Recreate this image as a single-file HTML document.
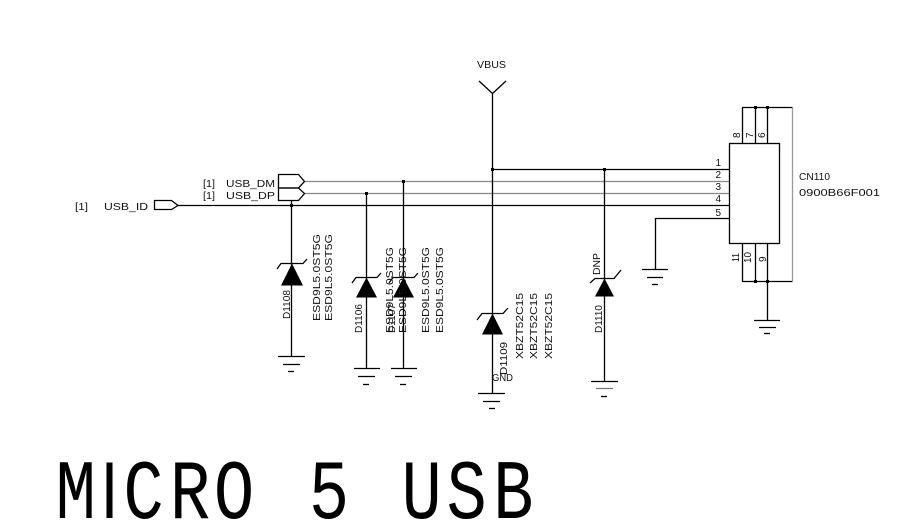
<!DOCTYPE html>
<html>
<head>
<meta charset="utf-8">
<style>
html,body{margin:0;padding:0;background:#fff;}
svg{display:block;}
text{font-family:"Liberation Sans",sans-serif;font-size:10px;fill:#111;}
.big{font-family:"Liberation Mono","DejaVu Sans Mono",monospace;font-size:84px;fill:#000;}
.bigI{font-family:"Liberation Sans",sans-serif;font-size:81px;fill:#000;}
</style>
</head>
<body>
<svg width="918" height="529" viewBox="0 0 918 529" xmlns="http://www.w3.org/2000/svg">
<g stroke="#000" stroke-width="1.3" fill="none">
  <line x1="492" y1="169.5" x2="729.5" y2="169.5"/>
  <line x1="304" y1="181.5" x2="729.5" y2="181.5" stroke="#888"/>
  <line x1="304" y1="193.5" x2="729.5" y2="193.5" stroke="#888"/>
  <line x1="178" y1="205.5" x2="729.5" y2="205.5"/>
  <polyline points="729.5,218.5 655.5,218.5 655.5,269"/>

  <polygon points="278.5,174.5 298.5,174.5 304.5,181.5 298.5,188 278.5,188"/>
  <polygon points="278.5,188 298.5,188 304.5,193.5 298.5,200.5 278.5,200.5"/>
  <polygon points="154.5,200.5 171.5,200.5 178,205.5 171.5,209.5 154.5,209.5"/>

  <polyline points="479,81 492.5,93.5 506,81"/>
  <line x1="492.5" y1="93" x2="492.5" y2="393.5"/>

  <line x1="291.5" y1="200" x2="291.5" y2="356.5"/>
  <line x1="366.5" y1="193" x2="366.5" y2="368.5"/>
  <line x1="403.5" y1="181" x2="403.5" y2="368.5"/>
  <line x1="604.5" y1="169" x2="604.5" y2="381.5"/>

  <polyline points="277,269 281,263.5 303,263.5 307,259"/>
  <polyline points="352,283 356,277.5 377,277.5 381,273"/>
  <polyline points="389,283 393,277.5 414,277.5 418,273"/>
  <polyline points="477,320 482,313.5 503,313.5 508,308"/>
  <polyline points="590,283 595,278.5 614,278.5 621,270"/>

  <rect x="729.5" y="143.5" width="50" height="100"/>
  <line x1="742.5" y1="107.5" x2="742.5" y2="143.5"/>
  <line x1="755.5" y1="107.5" x2="755.5" y2="143.5"/>
  <line x1="767.5" y1="107.5" x2="767.5" y2="143.5"/>
  <line x1="742.5" y1="243.5" x2="742.5" y2="281.5"/>
  <line x1="755.5" y1="243.5" x2="755.5" y2="281.5"/>
  <line x1="767.5" y1="243.5" x2="767.5" y2="320.5"/>
  <line x1="742" y1="107.5" x2="792.5" y2="107.5"/>
  <line x1="742" y1="281.5" x2="792.5" y2="281.5"/>
  <line x1="792.5" y1="107.5" x2="792.5" y2="281.5" stroke="#999"/>

  <g>
    <line x1="278" y1="356.5" x2="305" y2="356.5"/><line x1="283" y1="364.5" x2="300" y2="364.5"/><line x1="288" y1="371.5" x2="294" y2="371.5"/>
    <line x1="354" y1="368.5" x2="380" y2="368.5"/><line x1="358" y1="376.5" x2="375" y2="376.5"/><line x1="363" y1="384.5" x2="369" y2="384.5"/>
    <line x1="391" y1="368.5" x2="417" y2="368.5"/><line x1="395" y1="376.5" x2="412" y2="376.5"/><line x1="400" y1="384.5" x2="406" y2="384.5"/>
    <line x1="478" y1="393.5" x2="505" y2="393.5"/><line x1="483" y1="401.5" x2="500" y2="401.5"/><line x1="489" y1="408.5" x2="495" y2="408.5"/>
    <line x1="591" y1="381.5" x2="618" y2="381.5"/><line x1="596" y1="388.5" x2="613" y2="388.5" stroke="#777"/><line x1="601" y1="396.5" x2="607" y2="396.5"/>
    <line x1="642" y1="269.5" x2="668" y2="269.5"/><line x1="647" y1="277.5" x2="663" y2="277.5"/><line x1="652" y1="284.5" x2="658" y2="284.5"/>
    <line x1="754" y1="320.5" x2="780" y2="320.5"/><line x1="759" y1="327.5" x2="776" y2="327.5"/><line x1="764" y1="333.5" x2="770" y2="333.5"/>
  </g>
</g>

<g fill="#000">
  <polygon points="281,285.5 303,285.5 292,263.5"/>
  <polygon points="356,297.5 377,297.5 366.5,277.5"/>
  <polygon points="393,297.5 414,297.5 403.5,277.5"/>
  <polygon points="482,334.5 503,334.5 492.5,313.5"/>
  <polygon points="595,296.5 614,296.5 604.5,278.5"/>
  <rect x="491" y="168" width="3" height="3"/>
  <rect x="603" y="168" width="3" height="3"/>
  <rect x="402" y="180" width="3" height="3"/>
  <rect x="365" y="192" width="3" height="3"/>
  <rect x="290" y="204" width="3" height="3"/>
  <rect x="754" y="106" width="3" height="3"/>
  <rect x="766" y="106" width="3" height="3"/>
  <rect x="754" y="280" width="3" height="3"/>
  <rect x="766" y="280" width="3" height="3"/>
</g>

<text x="203" y="187" textLength="12" lengthAdjust="spacingAndGlyphs">[1]</text>
<text x="226" y="187" textLength="49" lengthAdjust="spacingAndGlyphs">USB_DM</text>
<text x="203" y="199" textLength="12" lengthAdjust="spacingAndGlyphs">[1]</text>
<text x="226" y="199" textLength="49" lengthAdjust="spacingAndGlyphs">USB_DP</text>
<text x="75" y="210" textLength="13" lengthAdjust="spacingAndGlyphs">[1]</text>
<text x="104" y="210" textLength="44" lengthAdjust="spacingAndGlyphs">USB_ID</text>
<text x="477" y="68" textLength="29" lengthAdjust="spacingAndGlyphs">VBUS</text>
<text x="799" y="180" textLength="31" lengthAdjust="spacingAndGlyphs">CN110</text>
<text x="799" y="196" textLength="81" lengthAdjust="spacingAndGlyphs">0900B66F001</text>
<text x="492" y="381" textLength="21" lengthAdjust="spacingAndGlyphs">GND</text>
<text x="721" y="166" text-anchor="end">1</text>
<text x="721" y="178" text-anchor="end">2</text>
<text x="721" y="190" text-anchor="end">3</text>
<text x="721" y="202" text-anchor="end">4</text>
<text x="721" y="216" text-anchor="end">5</text>

<text transform="translate(320,321) rotate(-90)" textLength="87" lengthAdjust="spacingAndGlyphs">ESD9L5.0ST5G</text>
<text transform="translate(332,321) rotate(-90)" textLength="87" lengthAdjust="spacingAndGlyphs">ESD9L5.0ST5G</text>
<text transform="translate(290,319) rotate(-90)" textLength="29" lengthAdjust="spacingAndGlyphs">D1108</text>
<text transform="translate(362,333) rotate(-90)" textLength="29" lengthAdjust="spacingAndGlyphs">D1106</text>
<text transform="translate(393,333) rotate(-90)" textLength="86" lengthAdjust="spacingAndGlyphs">ESD9L5.0ST5G</text>
<text transform="translate(395,333) rotate(-90)" textLength="29" lengthAdjust="spacingAndGlyphs">D1107</text>
<text transform="translate(406,333) rotate(-90)" textLength="86" lengthAdjust="spacingAndGlyphs">ESD9L5.0ST5G</text>
<text transform="translate(429,333) rotate(-90)" textLength="86" lengthAdjust="spacingAndGlyphs">ESD9L5.0ST5G</text>
<text transform="translate(443,333) rotate(-90)" textLength="86" lengthAdjust="spacingAndGlyphs">ESD9L5.0ST5G</text>
<text transform="translate(507,375) rotate(-90)" textLength="33" lengthAdjust="spacingAndGlyphs">D1109</text>
<text transform="translate(523,359) rotate(-90)" textLength="66" lengthAdjust="spacingAndGlyphs">XBZT52C15</text>
<text transform="translate(537,359) rotate(-90)" textLength="66" lengthAdjust="spacingAndGlyphs">XBZT52C15</text>
<text transform="translate(552,359) rotate(-90)" textLength="66" lengthAdjust="spacingAndGlyphs">XBZT52C15</text>
<text transform="translate(602,333) rotate(-90)" textLength="28" lengthAdjust="spacingAndGlyphs">D1110</text>
<text transform="translate(600,275) rotate(-90)" textLength="22" lengthAdjust="spacingAndGlyphs">DNP</text>
<text transform="translate(740,138) rotate(-90)">8</text>
<text transform="translate(753,138) rotate(-90)">7</text>
<text transform="translate(765,138) rotate(-90)">6</text>
<text transform="translate(739,262) rotate(-90)" textLength="9" lengthAdjust="spacingAndGlyphs">11</text>
<text transform="translate(751,263) rotate(-90)" textLength="11" lengthAdjust="spacingAndGlyphs">10</text>
<text transform="translate(766,262) rotate(-90)">9</text>

<text class="big" text-anchor="middle" transform="translate(75.8,518) scale(0.8,1)">M</text>
<text class="bigI" text-anchor="middle" transform="translate(109.5,518) scale(0.8,1)">I</text>
<text class="big" text-anchor="middle" transform="translate(143.5,518) scale(0.8,1)">C</text>
<text class="big" text-anchor="middle" transform="translate(190,518) scale(0.8,1)">R</text>
<text class="big" text-anchor="middle" transform="translate(234,518) scale(0.8,1)">O</text>
<text class="big" text-anchor="middle" transform="translate(329,518) scale(0.8,1)">5</text>
<text class="big" text-anchor="middle" transform="translate(421.7,518) scale(0.8,1)">U</text>
<text class="big" text-anchor="middle" transform="translate(466.7,518) scale(0.8,1)">S</text>
<text class="big" text-anchor="middle" transform="translate(513.3,518) scale(0.8,1)">B</text>
</svg>
</body>
</html>
